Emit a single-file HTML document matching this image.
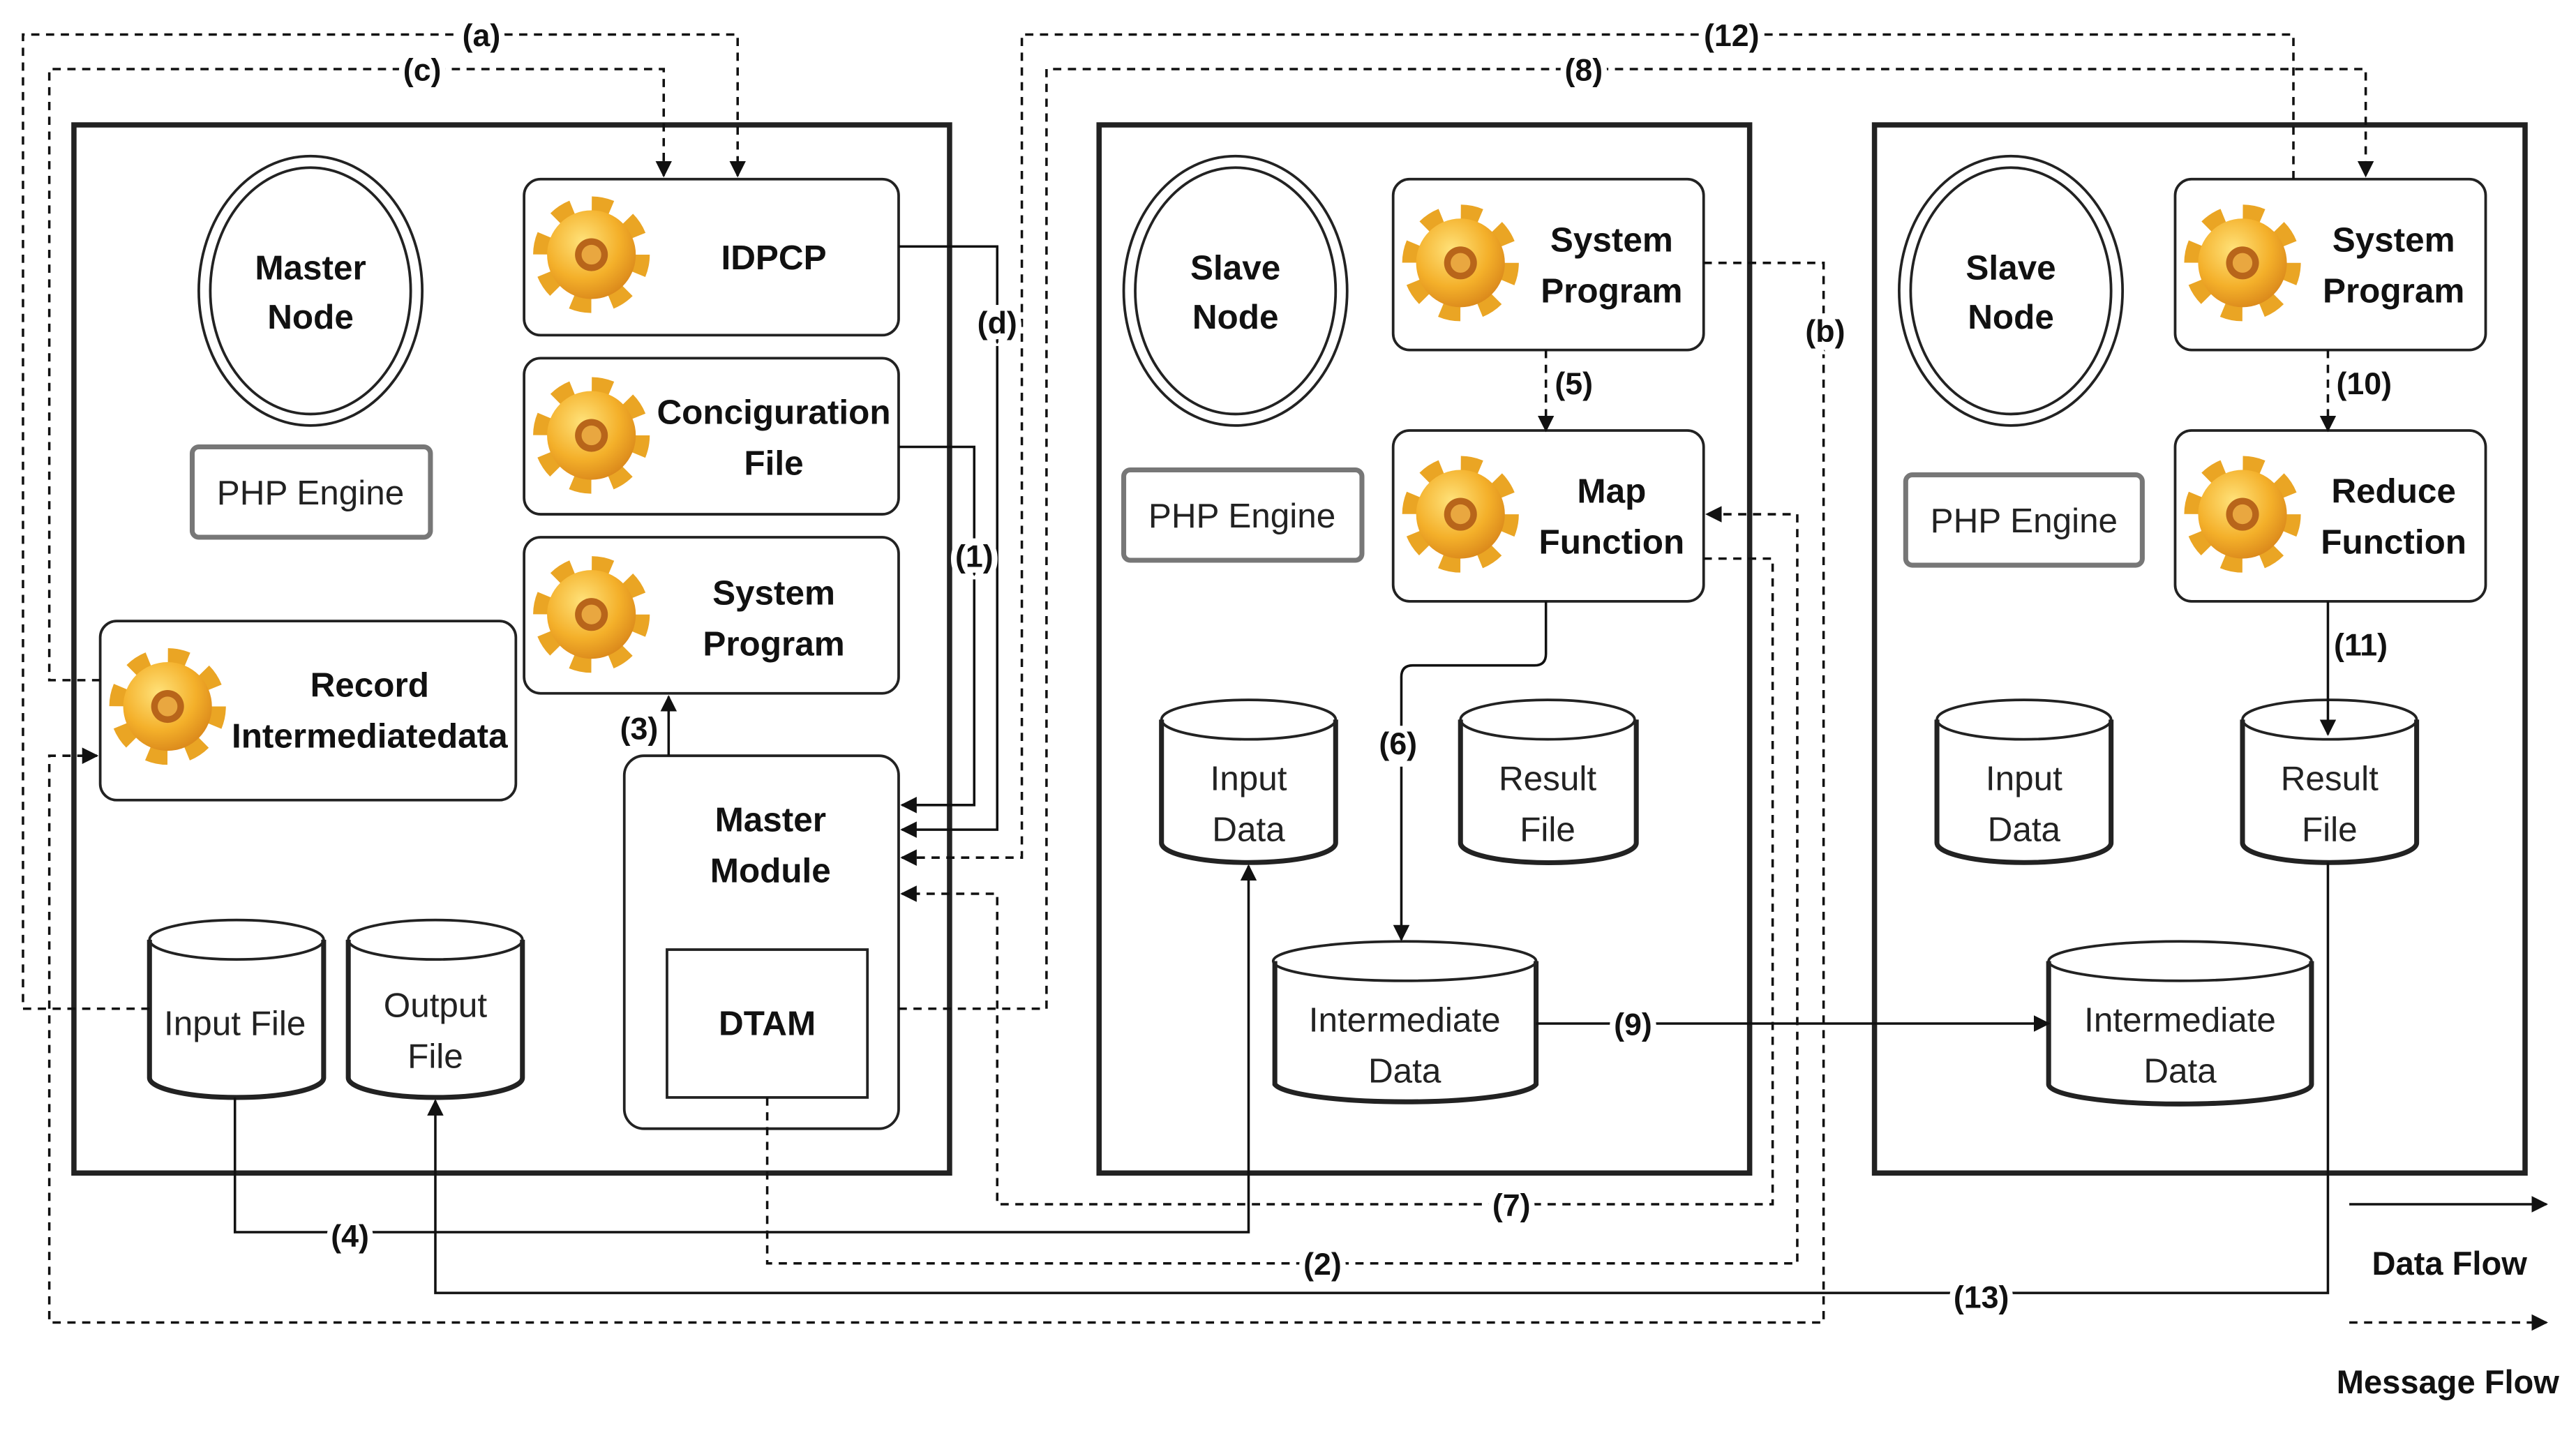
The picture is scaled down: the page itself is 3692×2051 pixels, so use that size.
<!DOCTYPE html>
<html><head><meta charset="utf-8"><style>
html,body{margin:0;padding:0;background:#fff;}
svg{display:block;}
text{font-family:"Liberation Sans",Arial,sans-serif;}
.b{font-weight:bold;font-size:21px;fill:#111;text-anchor:middle;}
.n{font-size:21px;fill:#222;text-anchor:middle;}
.l{font-weight:bold;font-size:19px;fill:#111;text-anchor:middle;paint-order:stroke;stroke:#fff;stroke-width:7px;}
.box{fill:#fff;stroke:#222;stroke-width:1.6;}
.outer{fill:none;stroke:#222;stroke-width:3.2;}
.php{fill:#fff;stroke:#777;stroke-width:3;}
.s{fill:none;stroke:#111;stroke-width:1.5;}
.d{fill:none;stroke:#111;stroke-width:1.5;stroke-dasharray:5,4;}
</style></head><body>
<svg width="3692" height="2051" viewBox="0 0 1568 871" xmlns="http://www.w3.org/2000/svg">
<defs>
<radialGradient id="gg" cx="40%" cy="35%" r="70%"><stop offset="0" stop-color="#ffe27a"/><stop offset="0.6" stop-color="#f4b02a"/><stop offset="1" stop-color="#d9861a"/></radialGradient>
<g id="gear">
<circle r="29" fill="none" stroke="#eaa524" stroke-width="13" stroke-dasharray="11.4,11.4"/>
<circle r="27" fill="url(#gg)"/>
<circle r="10" fill="#b8651a"/>
<circle r="6" fill="#e9a740"/>
</g>
<marker id="ar" markerWidth="10" markerHeight="10" refX="9" refY="5" orient="auto" markerUnits="userSpaceOnUse"><path d="M0,0 L10,5 L0,10 z" fill="#111"/></marker>
</defs>
<!-- outer boxes -->
<rect class="outer" x="45" y="76" width="533" height="638"/>
<rect class="outer" x="669" y="76" width="396" height="638"/>
<rect class="outer" x="1141" y="76" width="396" height="638"/>

<!-- master -->
<ellipse cx="189" cy="177" rx="68" ry="82" class="box"/><ellipse cx="189" cy="177" rx="61" ry="75" class="box"/>
<text class="b" x="189" y="170">Master</text><text class="b" x="189" y="200">Node</text>
<rect class="php" x="117" y="272" width="145" height="55" rx="4"/><text class="n" x="189" y="307">PHP Engine</text>
<rect class="box" x="319" y="109" width="228" height="95" rx="10"/><use href="#gear" x="360" y="155"/><text class="b" x="471" y="164">IDPCP</text>
<rect class="box" x="319" y="218" width="228" height="95" rx="10"/><use href="#gear" x="360" y="265"/><text class="b" x="471" y="258">Conciguration</text><text class="b" x="471" y="289">File</text>
<rect class="box" x="319" y="327" width="228" height="95" rx="10"/><use href="#gear" x="360" y="374"/><text class="b" x="471" y="368">System</text><text class="b" x="471" y="399">Program</text>
<rect class="box" x="61" y="378" width="253" height="109" rx="10"/><use href="#gear" x="102" y="430"/><text class="b" x="225" y="424">Record</text><text class="b" x="225" y="455">Intermediatedata</text>
<rect class="box" x="380" y="460" width="167" height="227" rx="12"/><text class="b" x="469" y="506">Master</text><text class="b" x="469" y="537">Module</text>
<rect class="box" x="406" y="578" width="122" height="90"/><text class="b" x="467" y="630">DTAM</text>
<!-- cylinders -->
<g class="box">
<path d="M91,572 V656 A53,12 0 0 0 197,656 V572" /><ellipse cx="144" cy="572" rx="53" ry="12"/>
<path d="M212,572 V656 A53,12 0 0 0 318,656 V572" /><ellipse cx="265" cy="572" rx="53" ry="12"/>
<path d="M707,438 V513 A53,12 0 0 0 813,513 V438" /><ellipse cx="760" cy="438" rx="53" ry="12"/>
<path d="M889,438 V513 A53,12 0 0 0 996,513 V438" /><ellipse cx="942" cy="438" rx="53" ry="12"/>
<path d="M776,585 V660 A80,12 0 0 0 935,660 V585" /><ellipse cx="855" cy="585" rx="80" ry="12"/>
<path d="M1179,438 V513 A53,12 0 0 0 1285,513 V438" /><ellipse cx="1232" cy="438" rx="53" ry="12"/>
<path d="M1365,438 V513 A53,12 0 0 0 1471,513 V438" /><ellipse cx="1418" cy="438" rx="53" ry="12"/>
<path d="M1247,585 V660 A80,12 0 0 0 1407,660 V585" /><ellipse cx="1327" cy="585" rx="80" ry="12"/>
</g>
<g style="stroke-width:3" fill="none" stroke="#222">
<path d="M91,572 V656 A53,12 0 0 0 197,656 V572"/><path d="M212,572 V656 A53,12 0 0 0 318,656 V572"/>
<path d="M707,438 V513 A53,12 0 0 0 813,513 V438"/><path d="M889,438 V513 A53,12 0 0 0 996,513 V438"/>
<path d="M776,585 V660 A80,12 0 0 0 935,660 V585"/><path d="M1179,438 V513 A53,12 0 0 0 1285,513 V438"/>
<path d="M1365,438 V513 A53,12 0 0 0 1471,513 V438"/><path d="M1247,585 V660 A80,12 0 0 0 1407,660 V585"/>
</g>
<text class="n" x="143" y="630">Input File</text>
<text class="n" x="265" y="619">Output</text><text class="n" x="265" y="650">File</text>
<text class="n" x="760" y="481">Input</text><text class="n" x="760" y="512">Data</text>
<text class="n" x="942" y="481">Result</text><text class="n" x="942" y="512">File</text>
<text class="n" x="855" y="628">Intermediate</text><text class="n" x="855" y="659">Data</text>
<text class="n" x="1232" y="481">Input</text><text class="n" x="1232" y="512">Data</text>
<text class="n" x="1418" y="481">Result</text><text class="n" x="1418" y="512">File</text>
<text class="n" x="1327" y="628">Intermediate</text><text class="n" x="1327" y="659">Data</text>

<!-- slave 1 -->
<ellipse cx="752" cy="177" rx="68" ry="82" class="box"/><ellipse cx="752" cy="177" rx="61" ry="75" class="box"/>
<text class="b" x="752" y="170">Slave</text><text class="b" x="752" y="200">Node</text>
<rect class="php" x="684" y="286" width="145" height="55" rx="4"/><text class="n" x="756" y="321">PHP Engine</text>
<rect class="box" x="848" y="109" width="189" height="104" rx="10"/><use href="#gear" x="889" y="160"/><text class="b" x="981" y="153">System</text><text class="b" x="981" y="184">Program</text>
<rect class="box" x="848" y="262" width="189" height="104" rx="10"/><use href="#gear" x="889" y="313"/><text class="b" x="981" y="306">Map</text><text class="b" x="981" y="337">Function</text>
<!-- slave 2 -->
<ellipse cx="1224" cy="177" rx="68" ry="82" class="box"/><ellipse cx="1224" cy="177" rx="61" ry="75" class="box"/>
<text class="b" x="1224" y="170">Slave</text><text class="b" x="1224" y="200">Node</text>
<rect class="php" x="1160" y="289" width="144" height="55" rx="4"/><text class="n" x="1232" y="324">PHP Engine</text>
<rect class="box" x="1324" y="109" width="189" height="104" rx="10"/><use href="#gear" x="1365" y="160"/><text class="b" x="1457" y="153">System</text><text class="b" x="1457" y="184">Program</text>
<rect class="box" x="1324" y="262" width="189" height="104" rx="10"/><use href="#gear" x="1365" y="313"/><text class="b" x="1457" y="306">Reduce</text><text class="b" x="1457" y="337">Function</text>

<!-- connectors -->
<path class="d" d="M91,614 H14 V21 H449 V107" marker-end="url(#ar)"/>
<path class="d" d="M61,414 H30 V42 H404 V107" marker-end="url(#ar)"/>
<path class="s" d="M547,150 H607 V505 H549" marker-end="url(#ar)"/>
<path class="s" d="M547,272 H593 V490 H549" marker-end="url(#ar)"/>
<path class="d" d="M547,614 H637 V42 H1440 V107" marker-end="url(#ar)"/>
<path class="d" d="M1396,109 V21 H622 V522 H549" marker-end="url(#ar)"/>
<path class="d" d="M1037,160 H1110 V805 H30 V460 H59" marker-end="url(#ar)"/>
<path class="s" d="M407,460 V424" marker-end="url(#ar)"/>
<path class="d" d="M467,668 V769 H1094 V313 H1039" marker-end="url(#ar)"/>
<path class="d" d="M1037,340 H1079 V733 H607 V544 H549" marker-end="url(#ar)"/>
<path class="s" d="M143,668 V750 H760 V527" marker-end="url(#ar)"/>
<path class="s" d="M1417,525 V787 H265 V670" marker-end="url(#ar)"/>
<path class="d" d="M941,213 V262" marker-end="url(#ar)"/>
<path class="s" d="M941,366 V398 Q941,405 934,405 H860 Q853,405 853,412 V572" marker-end="url(#ar)"/>
<path class="s" d="M935,623 H1247" marker-end="url(#ar)"/>
<path class="d" d="M1417,213 V262" marker-end="url(#ar)"/>
<path class="s" d="M1417,366 V447" marker-end="url(#ar)"/>

<text class="l" x="293" y="28">(a)</text>
<text class="l" x="257" y="49">(c)</text>
<text class="l" x="607" y="203">(d)</text>
<text class="l" x="593" y="345">(1)</text>
<text class="l" x="389" y="450">(3)</text>
<text class="l" x="1054" y="28">(12)</text>
<text class="l" x="964" y="49">(8)</text>
<text class="l" x="1111" y="208">(b)</text>
<text class="l" x="958" y="240">(5)</text>
<text class="l" x="1439" y="240">(10)</text>
<text class="l" x="1437" y="399">(11)</text>
<text class="l" x="851" y="459">(6)</text>
<text class="l" x="994" y="630">(9)</text>
<text class="l" x="920" y="740">(7)</text>
<text class="l" x="213" y="759">(4)</text>
<text class="l" x="805" y="776">(2)</text>
<text class="l" x="1206" y="796">(13)</text>

<!-- legend -->
<path class="s" d="M1430,733 H1550" marker-end="url(#ar)"/>
<text class="b" x="1491" y="776" style="font-size:20px">Data Flow</text>
<path class="d" d="M1430,805 H1550" marker-end="url(#ar)"/>
<text class="b" x="1490" y="848" style="font-size:20px">Message Flow</text>
</svg>
</body></html>
